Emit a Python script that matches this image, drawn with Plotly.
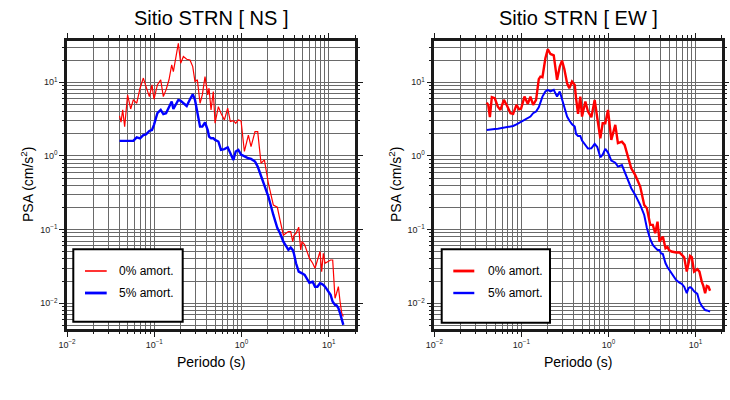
import plotly.graph_objects as go
import math

# Periods (s)
periods = [0.040, 0.0416, 0.0435, 0.0458, 0.0495, 0.0537, 0.0575, 0.0630, 0.0687, 0.0750,
           0.0805, 0.0879, 0.0942, 0.0993, 0.1086, 0.1186, 0.1271, 0.1365, 0.1476, 0.1585,
           0.1656, 0.1746, 0.1888, 0.2009, 0.2158, 0.2355, 0.2570, 0.2762, 0.2931, 0.3119,
           0.3350, 0.3556, 0.3819, 0.4102, 0.4246, 0.4477, 0.4753, 0.4977, 0.5433, 0.5821,
           0.6368, 0.6950, 0.7447, 0.8072, 0.8590, 0.9204, 0.9886, 1.079, 1.199, 1.286,
           1.429, 1.534, 1.675, 1.829, 2.032, 2.318, 2.576, 2.766, 3.020, 3.236,
           3.444, 3.664, 3.864, 4.000, 4.217, 4.528, 4.775, 4.943, 5.300, 5.998,
           6.546, 6.966, 7.413, 7.943, 8.30, 8.67, 9.07, 9.64, 10.5, 11.1,
           11.8, 12.3, 12.9, 13.5, 14.1, 14.7]

ns_0 = [3.49, 2.87, 4.21, 2.50, 6.73, 4.34, 5.76, 5.19, 8.3, 11.4,
        8.73, 6.39, 9.2, 5.88, 9.2, 10.8, 6.39, 7.87, 10.8, 17.2,
        13.9, 19.1, 33.8, 18.1, 22.3, 20.5, 20.1, 16.3, 10.2, 10.8,
        5.19, 6.73, 11.9, 6.73, 8.3, 4.21, 7.5, 2.78, 4.67, 3.80,
        3.08, 4.44, 2.93, 3.02, 2.78, 3.08, 2.99, 1.15, 1.92, 1.34,
        2.14, 2.14, 0.795, 0.883, 0.426, 0.215, 0.201, 0.135, 0.084, 0.0891,
        0.094, 0.094, 0.0687, 0.084, 0.0891, 0.108, 0.053, 0.0687, 0.062, 0.041,
        0.0349, 0.0298, 0.0387, 0.0504, 0.0269, 0.0477, 0.0349, 0.0368, 0.0387, 0.0387,
        0.0117, 0.0137, 0.0168, 0.0105, 0.0073, 0.0066]

ns_5 = [1.60, 1.60, 1.60, 1.62, 1.63, 1.63, 1.60, 1.79, 1.73, 1.92,
        1.96, 2.18, 2.25, 2.64, 3.80, 4.21, 3.69, 3.80, 4.67, 5.48,
        4.34, 4.93, 5.76, 5.6, 5.19, 4.76, 5.88, 6.87, 5.76, 3.80,
        2.50, 2.50, 2.84, 2.25, 1.83, 1.74, 1.74, 1.65, 1.57, 1.21,
        1.24, 1.31, 1.09, 0.883, 1.15, 1.21, 1.04, 0.98, 0.93, 0.91,
        0.84, 0.717, 0.524, 0.384, 0.281, 0.158, 0.105, 0.0891, 0.0687, 0.06,
        0.053, 0.057, 0.053, 0.0467, 0.0349, 0.0269, 0.0263, 0.0255, 0.0243, 0.019,
        0.0196, 0.0168, 0.0168, 0.0187, 0.0183, 0.0178, 0.0168, 0.0152, 0.013, 0.0105,
        0.0095, 0.0094, 0.0086, 0.0073, 0.006, 0.0051]

ew_0 = [5.3, 4.93, 3.36, 6.27, 6.07, 4.67, 4.21, 5.76, 4.76, 3.80,
        3.72, 4.93, 4.29, 4.38, 6.39, 5.08, 6.39, 4.93, 5.76, 11.0,
        11.9, 11.7, 21.2, 28.1, 24.2, 23.2, 10.8, 16.3, 19.7, 15.0,
        9.69, 8.3, 10.2, 9.2, 6.07, 3.72, 6.39, 3.42, 5.48, 4.0,
        3.36, 5.76, 3.27, 1.74, 2.78, 2.78, 4.21, 1.65, 2.64, 1.49,
        1.56, 1.41, 0.98, 0.68, 0.55, 0.384, 0.216, 0.195, 0.116, 0.116,
        0.0891, 0.128, 0.0687, 0.0724, 0.0803, 0.0557, 0.058, 0.053, 0.0504, 0.049,
        0.049, 0.0455, 0.0422, 0.0269, 0.0368, 0.044, 0.0422, 0.0269, 0.0290, 0.0269,
        0.0197, 0.0172, 0.0137, 0.0172, 0.0168, 0.0148]

ew_5 = [2.25, 2.27, 2.27, 2.30, 2.32, 2.34, 2.37, 2.42, 2.44, 2.47,
        2.55, 2.69, 2.82, 2.90, 3.03, 3.29, 3.42, 3.80, 4.0, 4.58,
        5.48, 6.39, 7.5, 7.87, 7.5, 7.87, 6.39, 7.5, 5.88, 4.44,
        3.42, 3.03, 2.69, 2.50, 1.99, 1.87, 1.87, 1.62, 1.38, 1.26,
        1.27, 1.46, 1.32, 0.96, 1.04, 1.25, 1.11, 0.865, 0.81, 0.717,
        0.75, 0.615, 0.472, 0.365, 0.296, 0.216, 0.158, 0.105, 0.074, 0.062,
        0.057, 0.053, 0.053, 0.0477, 0.0467, 0.0349, 0.0308, 0.029, 0.026, 0.0207,
        0.019, 0.0183, 0.0168, 0.0137, 0.016, 0.0165, 0.016, 0.0145, 0.0134, 0.0105,
        0.0092, 0.0085, 0.0081, 0.008, 0.0079, 0.0077]

tick_vals = [0.01, 0.1, 1, 10]
tick_text = ["10<sup>\u22122</sup>", "10<sup>\u22121</sup>", "10<sup>0</sup>", "10<sup>1</sup>"]
titles = ["Sitio STRN [ NS ]", "Sitio STRN [ EW ]"]
legend_labels = ["0% amort.", "5% amort."]

W, H = 730, 400
FONT = "Liberation Sans, Arial, Helvetica, sans-serif"
RED, BLUE = "#ff0000", "#0000ff"


def pxx(x):
    return x / W


def pxy(y):
    return 1 - y / H


fig = go.Figure()
fig.add_trace(go.Scatter(x=periods, y=ns_0, mode="lines", line=dict(color=RED, width=1.2),
                         xaxis="x", yaxis="y", name=legend_labels[0]))
fig.add_trace(go.Scatter(x=periods, y=ns_5, mode="lines", line=dict(color=BLUE, width=2.4),
                         xaxis="x", yaxis="y", name=legend_labels[1]))
fig.add_trace(go.Scatter(x=periods, y=ew_0, mode="lines", line=dict(color=RED, width=2.4),
                         xaxis="x2", yaxis="y2", name=legend_labels[0]))
fig.add_trace(go.Scatter(x=periods, y=ew_5, mode="lines", line=dict(color=BLUE, width=2.0),
                         xaxis="x2", yaxis="y2", name=legend_labels[1]))

GRID = "#6a6a6a"
common = dict(
    type="log", showline=True, linewidth=2.5, linecolor="#1a1a1a", mirror="allticks",
    ticks="outside", ticklen=5, tickwidth=1, tickcolor="#1a1a1a",
    tickmode="array", tickvals=tick_vals, ticktext=tick_text,
    tickfont=dict(family=FONT, size=9, color="#222"),
    showgrid=True, gridcolor=GRID, gridwidth=0.8, zeroline=False, automargin=False,
    minor=dict(dtick="D1", ticks="outside", ticklen=2.5, tickcolor="#1a1a1a", tickwidth=1,
               showgrid=True, gridcolor=GRID, gridwidth=0.8),
)

xr = [-2, math.log10(20)]
yr = [-2.349, 1.564]
ydom = [1 - 329 / H, 1 - 40.7 / H]

fig.update_layout(
    width=W, height=H, margin=dict(l=0, r=0, t=0, b=0, autoexpand=False),
    paper_bgcolor="white", plot_bgcolor="white", showlegend=False,
    font=dict(family=FONT, color="black"),
    xaxis=dict(common, domain=[67 / W, 355 / W], range=xr, anchor="y"),
    yaxis=dict(common, domain=ydom, range=yr, anchor="x"),
    xaxis2=dict(common, domain=[434.3 / W, 721.7 / W], range=xr, anchor="y2"),
    yaxis2=dict(common, domain=ydom, range=yr, anchor="x2"),
)

annotations = []
shapes = []
panels = [
    dict(cx=211, ylab_x=27, box=(73.3, 249.3, 182.7, 321.7), line=(85, 106.7), text_x=117,
         widths=(1.2, 2.4)),
    dict(cx=578, ylab_x=395, box=(441.7, 249.3, 550, 322.7), line=(453.3, 474.3), text_x=485.7,
         widths=(2.4, 2.0)),
]
for i, p in enumerate(panels):
    annotations.append(dict(text=titles[i], x=pxx(p["cx"]), y=pxy(18), xref="paper", yref="paper",
                            showarrow=False, xanchor="center", yanchor="middle",
                            font=dict(family=FONT, size=20, color="black")))
    annotations.append(dict(text="Periodo (s)", x=pxx(p["cx"]), y=pxy(362), xref="paper", yref="paper",
                            showarrow=False, xanchor="center", yanchor="middle",
                            font=dict(family=FONT, size=14, color="black")))
    annotations.append(dict(text="PSA (cm/s<sup>2</sup>)", x=pxx(p["ylab_x"]), y=pxy(185),
                            xref="paper", yref="paper", showarrow=False, textangle=-90,
                            xanchor="center", yanchor="middle",
                            font=dict(family=FONT, size=14, color="black")))
    x0, y0, x1, y1 = p["box"]
    shapes.append(dict(type="rect", xref="paper", yref="paper", x0=pxx(x0), x1=pxx(x1),
                       y0=pxy(y1), y1=pxy(y0), fillcolor="white",
                       line=dict(color="black", width=2), layer="above"))
    for j, (col, ly) in enumerate([(RED, 271), (BLUE, 293)]):
        shapes.append(dict(type="line", xref="paper", yref="paper", x0=pxx(p["line"][0]),
                           x1=pxx(p["line"][1]), y0=pxy(ly), y1=pxy(ly),
                           line=dict(color=col, width=p["widths"][j] + 0.4), layer="above"))
        annotations.append(dict(text=legend_labels[j], x=pxx(p["text_x"]), y=pxy(ly),
                                xref="paper", yref="paper", showarrow=False,
                                xanchor="left", yanchor="middle",
                                font=dict(family=FONT, size=12, color="black")))

fig.update_layout(annotations=annotations, shapes=shapes)
fig.write_html("out.html", config={"displayModeBar": False},
               post_script="document.body.style.margin='0px';")
